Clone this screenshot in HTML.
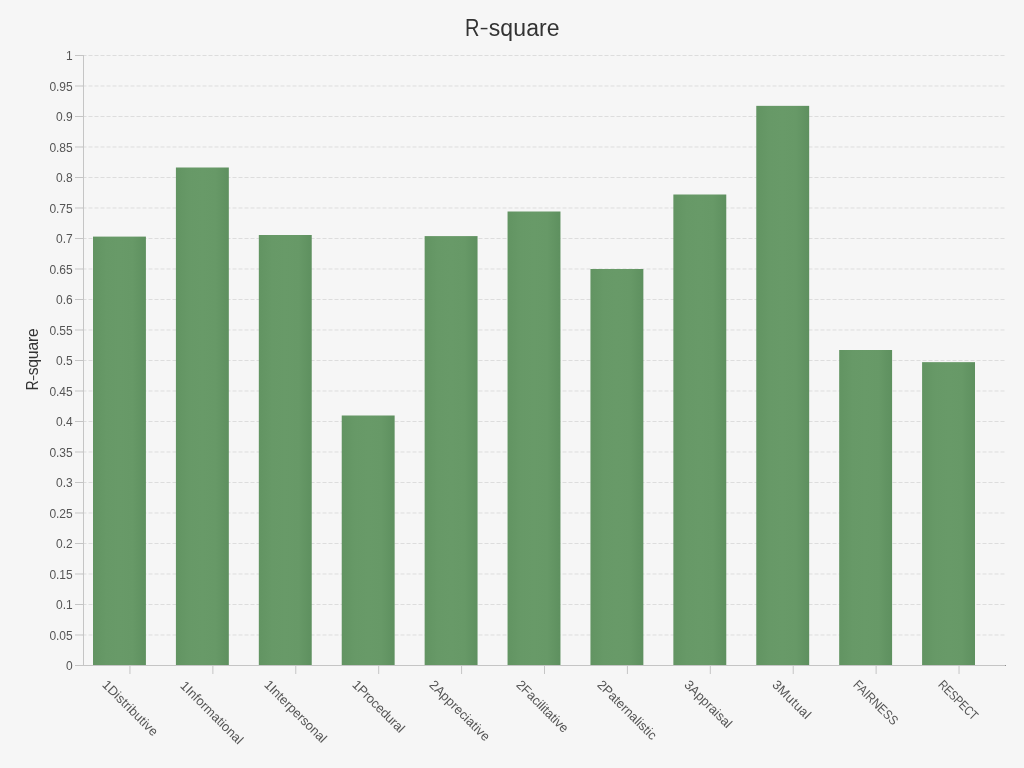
<!DOCTYPE html>
<html><head><meta charset="utf-8"><title>R-square</title>
<style>
html,body{margin:0;padding:0;}
body{width:1024px;height:768px;overflow:hidden;background:#f6f6f6;font-family:"Liberation Sans",sans-serif;position:relative;}
svg{position:absolute;left:0;top:0;}
.title{position:absolute;left:0;width:1024px;top:13px;text-align:center;font-size:23px;line-height:30px;color:#333;letter-spacing:0.1px;}
.yl{position:absolute;right:951.5px;font-size:12px;line-height:16px;height:16px;color:#555;text-align:right;white-space:nowrap;letter-spacing:-0.1px;}
.xl{position:absolute;top:677px;font-size:13px;line-height:16px;height:16px;color:#555;white-space:nowrap;transform-origin:0 0;transform:rotate(45deg);}
.ylab{position:absolute;left:33.2px;top:360px;width:0;height:0;}
.ylab span{position:absolute;display:block;width:120px;left:-60px;top:-10px;height:20px;line-height:20px;text-align:center;font-size:15.7px;color:#333;transform:rotate(-90deg);white-space:nowrap;letter-spacing:-0.2px;}
</style></head><body>

<svg width="1024" height="768" viewBox="0 0 1024 768">
<defs><linearGradient id="g" x1="0" x2="1" y1="0" y2="0"><stop offset="0" stop-color="#629462"/><stop offset="0.25" stop-color="#679967"/><stop offset="0.5" stop-color="#689a68"/><stop offset="0.75" stop-color="#679967"/><stop offset="1" stop-color="#5e905f"/></linearGradient></defs>
<line x1="83" x2="1005" y1="635.0" y2="635.0" stroke="#dddddd" stroke-width="1" stroke-dasharray="3 3" stroke-linecap="square"/>
<line x1="83" x2="1005" y1="604.5" y2="604.5" stroke="#dddddd" stroke-width="1" stroke-dasharray="3 3" stroke-linecap="square"/>
<line x1="83" x2="1005" y1="574.0" y2="574.0" stroke="#dddddd" stroke-width="1" stroke-dasharray="3 3" stroke-linecap="square"/>
<line x1="83" x2="1005" y1="543.5" y2="543.5" stroke="#dddddd" stroke-width="1" stroke-dasharray="3 3" stroke-linecap="square"/>
<line x1="83" x2="1005" y1="513.0" y2="513.0" stroke="#dddddd" stroke-width="1" stroke-dasharray="3 3" stroke-linecap="square"/>
<line x1="83" x2="1005" y1="482.5" y2="482.5" stroke="#dddddd" stroke-width="1" stroke-dasharray="3 3" stroke-linecap="square"/>
<line x1="83" x2="1005" y1="452.0" y2="452.0" stroke="#dddddd" stroke-width="1" stroke-dasharray="3 3" stroke-linecap="square"/>
<line x1="83" x2="1005" y1="421.5" y2="421.5" stroke="#dddddd" stroke-width="1" stroke-dasharray="3 3" stroke-linecap="square"/>
<line x1="83" x2="1005" y1="391.0" y2="391.0" stroke="#dddddd" stroke-width="1" stroke-dasharray="3 3" stroke-linecap="square"/>
<line x1="83" x2="1005" y1="360.5" y2="360.5" stroke="#dddddd" stroke-width="1" stroke-dasharray="3 3" stroke-linecap="square"/>
<line x1="83" x2="1005" y1="330.0" y2="330.0" stroke="#dddddd" stroke-width="1" stroke-dasharray="3 3" stroke-linecap="square"/>
<line x1="83" x2="1005" y1="299.5" y2="299.5" stroke="#dddddd" stroke-width="1" stroke-dasharray="3 3" stroke-linecap="square"/>
<line x1="83" x2="1005" y1="269.0" y2="269.0" stroke="#dddddd" stroke-width="1" stroke-dasharray="3 3" stroke-linecap="square"/>
<line x1="83" x2="1005" y1="238.5" y2="238.5" stroke="#dddddd" stroke-width="1" stroke-dasharray="3 3" stroke-linecap="square"/>
<line x1="83" x2="1005" y1="208.0" y2="208.0" stroke="#dddddd" stroke-width="1" stroke-dasharray="3 3" stroke-linecap="square"/>
<line x1="83" x2="1005" y1="177.5" y2="177.5" stroke="#dddddd" stroke-width="1" stroke-dasharray="3 3" stroke-linecap="square"/>
<line x1="83" x2="1005" y1="147.0" y2="147.0" stroke="#dddddd" stroke-width="1" stroke-dasharray="3 3" stroke-linecap="square"/>
<line x1="83" x2="1005" y1="116.5" y2="116.5" stroke="#dddddd" stroke-width="1" stroke-dasharray="3 3" stroke-linecap="square"/>
<line x1="83" x2="1005" y1="86.0" y2="86.0" stroke="#dddddd" stroke-width="1" stroke-dasharray="3 3" stroke-linecap="square"/>
<line x1="83" x2="1005" y1="55.5" y2="55.5" stroke="#dddddd" stroke-width="1" stroke-dasharray="3 3" stroke-linecap="square"/>
<rect x="93.00" y="236.60" width="52.91" height="428.40" fill="url(#g)"/>
<rect x="175.91" y="167.50" width="52.91" height="497.50" fill="url(#g)"/>
<rect x="258.82" y="235.00" width="52.91" height="430.00" fill="url(#g)"/>
<rect x="341.73" y="415.50" width="52.91" height="249.50" fill="url(#g)"/>
<rect x="424.64" y="236.10" width="52.91" height="428.90" fill="url(#g)"/>
<rect x="507.55" y="211.50" width="52.91" height="453.50" fill="url(#g)"/>
<rect x="590.45" y="269.00" width="52.91" height="396.00" fill="url(#g)"/>
<rect x="673.36" y="194.50" width="52.91" height="470.50" fill="url(#g)"/>
<rect x="756.27" y="105.85" width="52.91" height="559.15" fill="url(#g)"/>
<rect x="839.18" y="350.00" width="52.91" height="315.00" fill="url(#g)"/>
<rect x="922.09" y="362.15" width="52.91" height="302.85" fill="url(#g)"/>
<line x1="75" x2="83" y1="665.5" y2="665.5" stroke="#c5c5c5" stroke-width="1"/>
<line x1="75" x2="83" y1="635.0" y2="635.0" stroke="#c5c5c5" stroke-width="1"/>
<line x1="75" x2="83" y1="604.5" y2="604.5" stroke="#c5c5c5" stroke-width="1"/>
<line x1="75" x2="83" y1="574.0" y2="574.0" stroke="#c5c5c5" stroke-width="1"/>
<line x1="75" x2="83" y1="543.5" y2="543.5" stroke="#c5c5c5" stroke-width="1"/>
<line x1="75" x2="83" y1="513.0" y2="513.0" stroke="#c5c5c5" stroke-width="1"/>
<line x1="75" x2="83" y1="482.5" y2="482.5" stroke="#c5c5c5" stroke-width="1"/>
<line x1="75" x2="83" y1="452.0" y2="452.0" stroke="#c5c5c5" stroke-width="1"/>
<line x1="75" x2="83" y1="421.5" y2="421.5" stroke="#c5c5c5" stroke-width="1"/>
<line x1="75" x2="83" y1="391.0" y2="391.0" stroke="#c5c5c5" stroke-width="1"/>
<line x1="75" x2="83" y1="360.5" y2="360.5" stroke="#c5c5c5" stroke-width="1"/>
<line x1="75" x2="83" y1="330.0" y2="330.0" stroke="#c5c5c5" stroke-width="1"/>
<line x1="75" x2="83" y1="299.5" y2="299.5" stroke="#c5c5c5" stroke-width="1"/>
<line x1="75" x2="83" y1="269.0" y2="269.0" stroke="#c5c5c5" stroke-width="1"/>
<line x1="75" x2="83" y1="238.5" y2="238.5" stroke="#c5c5c5" stroke-width="1"/>
<line x1="75" x2="83" y1="208.0" y2="208.0" stroke="#c5c5c5" stroke-width="1"/>
<line x1="75" x2="83" y1="177.5" y2="177.5" stroke="#c5c5c5" stroke-width="1"/>
<line x1="75" x2="83" y1="147.0" y2="147.0" stroke="#c5c5c5" stroke-width="1"/>
<line x1="75" x2="83" y1="116.5" y2="116.5" stroke="#c5c5c5" stroke-width="1"/>
<line x1="75" x2="83" y1="86.0" y2="86.0" stroke="#c5c5c5" stroke-width="1"/>
<line x1="75" x2="83" y1="55.5" y2="55.5" stroke="#c5c5c5" stroke-width="1"/>
<line x1="83.5" x2="83.5" y1="55" y2="666" stroke="#c5c5c5" stroke-width="1"/>
<line x1="83" x2="1006" y1="665.5" y2="665.5" stroke="#c5c5c5" stroke-width="1"/>
<rect x="1005" y="665" width="1" height="1" fill="#8e8e8e"/>
<line x1="129.95" x2="129.95" y1="666" y2="674" stroke="#c5c5c5" stroke-width="1"/>
<line x1="212.86" x2="212.86" y1="666" y2="674" stroke="#c5c5c5" stroke-width="1"/>
<line x1="295.77" x2="295.77" y1="666" y2="674" stroke="#c5c5c5" stroke-width="1"/>
<line x1="378.68" x2="378.68" y1="666" y2="674" stroke="#c5c5c5" stroke-width="1"/>
<line x1="461.59" x2="461.59" y1="666" y2="674" stroke="#c5c5c5" stroke-width="1"/>
<line x1="544.50" x2="544.50" y1="666" y2="674" stroke="#c5c5c5" stroke-width="1"/>
<line x1="627.40" x2="627.40" y1="666" y2="674" stroke="#c5c5c5" stroke-width="1"/>
<line x1="710.31" x2="710.31" y1="666" y2="674" stroke="#c5c5c5" stroke-width="1"/>
<line x1="793.22" x2="793.22" y1="666" y2="674" stroke="#c5c5c5" stroke-width="1"/>
<line x1="876.13" x2="876.13" y1="666" y2="674" stroke="#c5c5c5" stroke-width="1"/>
<line x1="959.04" x2="959.04" y1="666" y2="674" stroke="#c5c5c5" stroke-width="1"/>
</svg>
<div class="title"><span style="display:inline-block;transform:scaleX(.87)">R</span><span style="display:inline-block;transform:translateY(-1px) scale(1.2,.8);transform-origin:100% 62%">-</span>square</div>
<div class="ylab"><span><i style="font-style:normal;display:inline-block;transform:scaleX(.87)">R</i><i style="font-style:normal;display:inline-block;transform:translateY(-0.6px) scale(1.2,.8);transform-origin:100% 62%">-</i>square</span></div>
<div class="yl" style="top:658.0px">0</div>
<div class="yl" style="top:627.5px">0.05</div>
<div class="yl" style="top:597.0px">0.1</div>
<div class="yl" style="top:566.5px">0.15</div>
<div class="yl" style="top:536.0px">0.2</div>
<div class="yl" style="top:505.5px">0.25</div>
<div class="yl" style="top:475.0px">0.3</div>
<div class="yl" style="top:444.5px">0.35</div>
<div class="yl" style="top:414.0px">0.4</div>
<div class="yl" style="top:383.5px">0.45</div>
<div class="yl" style="top:353.0px">0.5</div>
<div class="yl" style="top:322.5px">0.55</div>
<div class="yl" style="top:292.0px">0.6</div>
<div class="yl" style="top:261.5px">0.65</div>
<div class="yl" style="top:231.0px">0.7</div>
<div class="yl" style="top:200.5px">0.75</div>
<div class="yl" style="top:170.0px">0.8</div>
<div class="yl" style="top:139.5px">0.85</div>
<div class="yl" style="top:109.0px">0.9</div>
<div class="yl" style="top:78.5px">0.95</div>
<div class="yl" style="top:48.0px">1</div>
<div class="xl" style="left:110.07px;top:677.20px;letter-spacing:0.08px">1Distributive</div>
<div class="xl" style="left:188.24px;top:678.00px;letter-spacing:0.02px">1Informational</div>
<div class="xl" style="left:272.09px;top:677.20px;letter-spacing:-0.08px">1Interpersonal</div>
<div class="xl" style="left:359.90px;top:677.20px;letter-spacing:-0.23px">1Procedural</div>
<div class="xl" style="left:436.94px;top:677.40px;letter-spacing:0.07px">2Appreciative</div>
<div class="xl" style="left:524.18px;top:677.40px;letter-spacing:-0.08px">2Facilitative</div>
<div class="xl" style="left:604.77px;top:677.40px;letter-spacing:-0.02px">2Paternalistic</div>
<div class="xl" style="left:691.70px;top:677.40px;letter-spacing:-0.01px">3Appraisal</div>
<div class="xl" style="left:779.88px;top:677.40px;letter-spacing:0.35px">3Mutual</div>
<div class="xl" style="left:860.81px;top:676.60px;letter-spacing:0.00px;transform:rotate(45deg) scaleX(0.890)">FAIRNESS</div>
<div class="xl" style="left:945.84px;top:676.60px;letter-spacing:0.00px;transform:rotate(45deg) scaleX(0.815)">RESPECT</div>
</body></html>
